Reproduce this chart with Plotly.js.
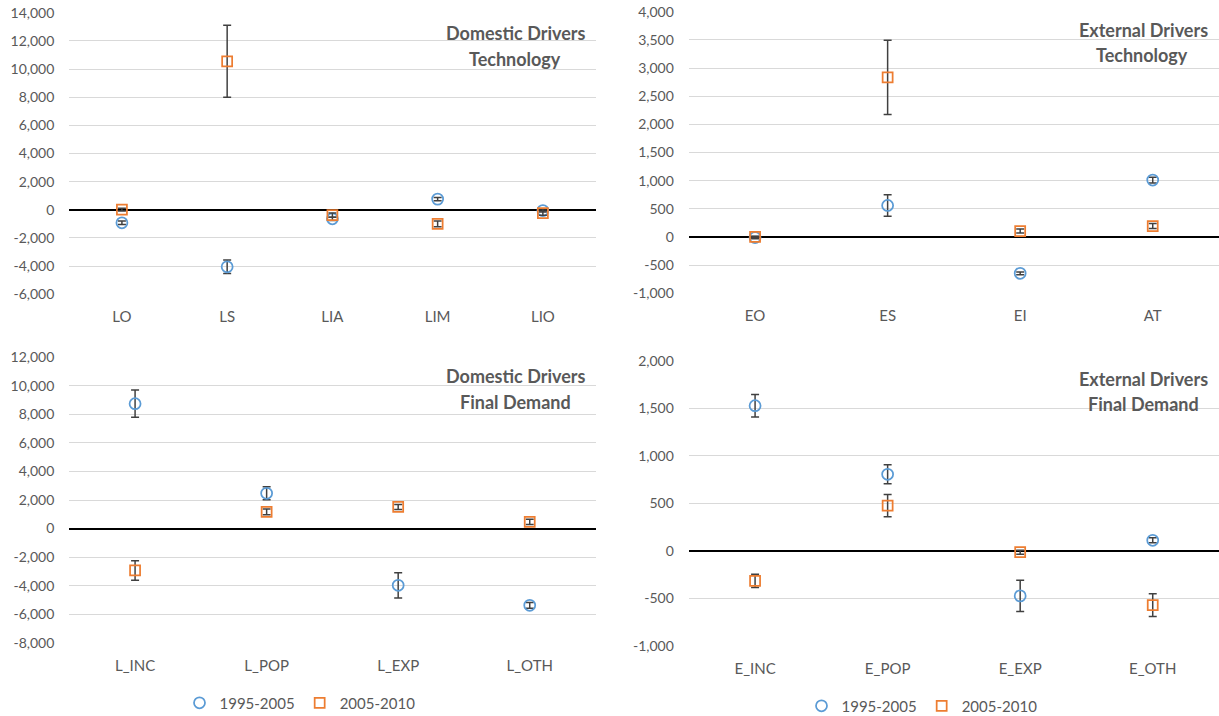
<!DOCTYPE html>
<html>
<head>
<meta charset="utf-8">
<script src="https://cdn.plot.ly/plotly-3.0.1.min.js"></script>
<style>html,body{margin:0;padding:0;background:#fff;overflow:hidden;}#chart{width:1219px;height:716px;}</style>
</head>
<body>
<div id="chart"></div>
<script>
// ---- data ----
const seriesNames = ['1995-2005', '2005-2010'];

const p1Categories = ['LO', 'LS', 'LIA', 'LIM', 'LIO'];
const p1Values1995 = [-920, -4050, -640, 760, -50];
const p1Err1995    = [120, 480, 120, 120, 100];
const p1Values2005 = [20, 10550, -380, -1000, -230];
const p1Err2005    = [100, 2550, 150, 200, 150];
const p1TickVals   = [-6000, -4000, -2000, 0, 2000, 4000, 6000, 8000, 10000, 12000, 14000];
const p1TickText   = ['-6,000', '-4,000', '-2,000', '0', '2,000', '4,000', '6,000', '8,000', '10,000', '12,000', '14,000'];

const p2Categories = ['EO', 'ES', 'EI', 'AT'];
const p2Values1995 = [-10, 560, -645, 1010];
const p2Err1995    = [20, 190, 25, 50];
const p2Values2005 = [0, 2835, 105, 195];
const p2Err2005    = [15, 660, 35, 45];
const p2TickVals   = [-1000, -500, 0, 500, 1000, 1500, 2000, 2500, 3000, 3500, 4000];
const p2TickText   = ['-1,000', '-500', '0', '500', '1,000', '1,500', '2,000', '2,500', '3,000', '3,500', '4,000'];

const p3Categories = ['L_INC', 'L_POP', 'L_EXP', 'L_OTH'];
const p3Values1995 = [8750, 2470, -3980, -5380];
const p3Err1995    = [950, 450, 880, 200];
const p3Values2005 = [-2940, 1170, 1510, 470];
const p3Err2005    = [680, 200, 180, 180];
const p3TickVals   = [-8000, -6000, -4000, -2000, 0, 2000, 4000, 6000, 8000, 10000, 12000];
const p3TickText   = ['-8,000', '-6,000', '-4,000', '-2,000', '0', '2,000', '4,000', '6,000', '8,000', '10,000', '12,000'];

const p4Categories = ['E_INC', 'E_POP', 'E_EXP', 'E_OTH'];
const p4Values1995 = [1527, 806, -473, 112];
const p4Err1995    = [118, 100, 165, 25];
const p4Values2005 = [-315, 476, -14, -571];
const p4Err2005    = [70, 117, 20, 120];
const p4TickVals   = [-1000, -500, 0, 500, 1000, 1500, 2000];
const p4TickText   = ['-1,000', '-500', '0', '500', '1,000', '1,500', '2,000'];

const panelTitles = [
  ['Domestic Drivers', 'Technology'],
  ['External Drivers', 'Technology'],
  ['Domestic Drivers', 'Final Demand'],
  ['External Drivers', 'Final Demand']
];

// ---- styling ----
const BLUE = '#5B9BD5', ORANGE = '#ED7D31', GREY = '#595959', ERR = '#404040';
const FONT = 'Lato, "Open Sans", sans-serif';

function mk(cats, vals, errs, idx, xa, ya, legendName, show) {
  return {
    type: 'scatter', mode: 'markers',
    x: cats, y: vals, xaxis: xa, yaxis: ya,
    name: seriesNames[idx],
    legend: legendName, showlegend: show,
    marker: {
      symbol: idx === 0 ? 'circle-open' : 'square-open',
      size: idx === 0 ? 11 : 10,
      color: idx === 0 ? BLUE : ORANGE,
      line: {width: 1.75, color: idx === 0 ? BLUE : ORANGE}
    },
    error_y: {type: 'data', array: errs, visible: true, color: ERR, thickness: 1.5, width: 4},
    hoverinfo: 'skip'
  };
}

const traces = [
  mk(p1Categories, p1Values1995, p1Err1995, 0, 'x', 'y', 'legend', false),
  mk(p1Categories, p1Values2005, p1Err2005, 1, 'x', 'y', 'legend', false),
  mk(p2Categories, p2Values1995, p2Err1995, 0, 'x2', 'y2', 'legend', false),
  mk(p2Categories, p2Values2005, p2Err2005, 1, 'x2', 'y2', 'legend', false),
  mk(p3Categories, p3Values1995, p3Err1995, 0, 'x3', 'y3', 'legend', true),
  mk(p3Categories, p3Values2005, p3Err2005, 1, 'x3', 'y3', 'legend', true),
  mk(p4Categories, p4Values1995, p4Err1995, 0, 'x4', 'y4', 'legend2', true),
  mk(p4Categories, p4Values2005, p4Err2005, 1, 'x4', 'y4', 'legend2', true)
];

const W = 1219, H = 716;
const fx = px => px / W;
const fy = py => 1 - py / H;

function xAxis(cats, x0, x1, anchor) {
  return {
    type: 'category', categoryorder: 'array', categoryarray: cats,
    range: [-0.5, cats.length - 0.5],
    domain: [fx(x0), fx(x1)], anchor: anchor,
    showgrid: false, zeroline: false, showline: false, automargin: false,
    ticks: '', ticklabelstandoff: 12,
    tickfont: {family: FONT, size: 15, color: GREY},
    fixedrange: true
  };
}
function yAxis(tv, tt, yTop, yBot, anchor) {
  return {
    range: [tv[0], tv[tv.length - 1]],
    domain: [fy(yBot), fy(yTop)], anchor: anchor,
    tickmode: 'array', tickvals: tv, ticktext: tt,
    showgrid: true, gridcolor: '#D9D9D9', gridwidth: 1,
    zeroline: true, zerolinecolor: '#000000', zerolinewidth: 2,
    showline: false, ticks: '', ticklabelstandoff: 14, automargin: false,
    tickfont: {family: FONT, size: 14, color: GREY},
    fixedrange: true
  };
}

function titleAnn(text, cx, cy) {
  return {
    text: text, xref: 'paper', yref: 'paper', x: fx(cx), y: fy(cy),
    xanchor: 'center', yanchor: 'middle', showarrow: false,
    font: {family: FONT, size: 18, color: GREY, weight: 'bold'}
  };
}

const layout = {
  width: W, height: H, autosize: false,
  margin: {l: 0, r: 0, t: 0, b: 0, pad: 0, autoexpand: false},
  paper_bgcolor: '#FFFFFF', plot_bgcolor: '#FFFFFF',
  font: {family: FONT, color: GREY},
  xaxis:  xAxis(p1Categories, 69.3, 595.5, 'y'),
  yaxis:  yAxis(p1TickVals, p1TickText, 12.7, 294.3, 'x'),
  xaxis2: xAxis(p2Categories, 688.8, 1219, 'y2'),
  yaxis2: yAxis(p2TickVals, p2TickText, 11.7, 293.3, 'x2'),
  xaxis3: xAxis(p3Categories, 69.3, 595.5, 'y3'),
  yaxis3: yAxis(p3TickVals, p3TickText, 357.3, 642.7, 'x3'),
  xaxis4: xAxis(p4Categories, 688.8, 1219, 'y4'),
  yaxis4: yAxis(p4TickVals, p4TickText, 360.7, 646, 'x4'),
  legend: {
    orientation: 'h', x: fx(300), y: fy(703), xanchor: 'center', yanchor: 'middle',
    font: {family: FONT, size: 15, color: GREY}, bgcolor: 'rgba(0,0,0,0)', itemwidth: 30
  },
  legend2: {
    orientation: 'h', x: fx(922), y: fy(706), xanchor: 'center', yanchor: 'middle',
    font: {family: FONT, size: 15, color: GREY}, bgcolor: 'rgba(0,0,0,0)', itemwidth: 30
  },
  annotations: [
    titleAnn(panelTitles[0][0], 515, 33), titleAnn(panelTitles[0][1], 515, 59),
    titleAnn(panelTitles[1][0], 1143, 30), titleAnn(panelTitles[1][1], 1142, 55),
    titleAnn(panelTitles[2][0], 515, 376), titleAnn(panelTitles[2][1], 515, 402),
    titleAnn(panelTitles[3][0], 1143, 379), titleAnn(panelTitles[3][1], 1143, 404)
  ],
  showlegend: true
};

Plotly.newPlot('chart', traces, layout, {displayModeBar: false, staticPlot: true});
</script>
</body>
</html>
